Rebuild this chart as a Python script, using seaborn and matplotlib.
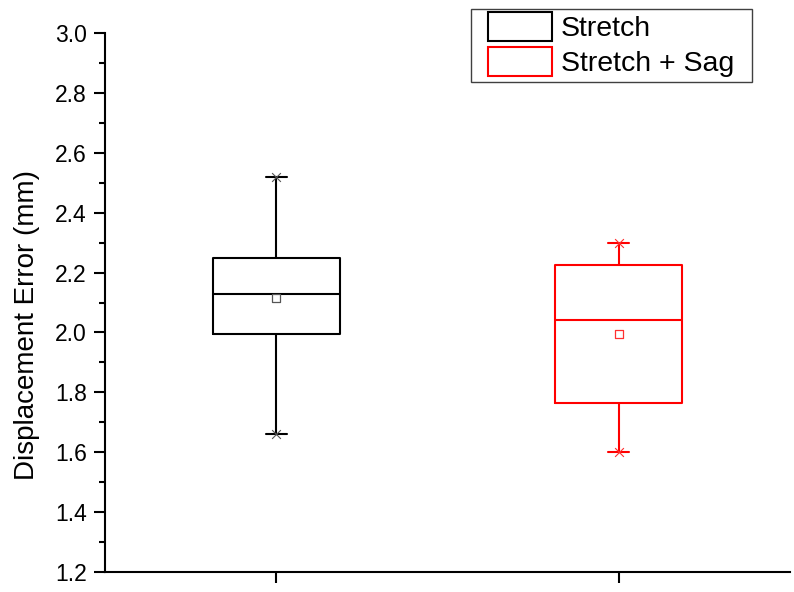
import numpy as np
import pandas as pd
import matplotlib
matplotlib.use("Agg")
import matplotlib.pyplot as plt
from matplotlib.patches import Patch, Rectangle
from matplotlib.ticker import AutoMinorLocator, FixedLocator
import seaborn as sns

# ---- data ----
groups = ["Stretch", "Stretch + Sag"]
# five-number summaries: min, q1, median, q3, max
stretch_summary = [1.66, 1.995, 2.13, 2.25, 2.52]
sag_summary = [1.60, 1.765, 2.04, 2.225, 2.30]
means = [2.115, 1.995]
y_ticks = [1.2, 1.4, 1.6, 1.8, 2.0, 2.2, 2.4, 2.6, 2.8, 3.0]
y_label = "Displacement Error (mm)"

line_colors = ["#000000", "#FF0000"]
mark_colors = ["#555555", "#FF3030"]

sns.set_theme(style="ticks")
plt.rcParams["font.family"] = ["Liberation Sans", "DejaVu Sans"]
plt.rcParams["text.color"] = "black"
plt.rcParams["axes.labelcolor"] = "black"
plt.rcParams["xtick.color"] = "black"
plt.rcParams["ytick.color"] = "black"

df = pd.DataFrame({
    "group": [groups[0]] * len(stretch_summary) + [groups[1]] * len(sag_summary),
    "value": stretch_summary + sag_summary,
})

W, H = 794, 592
fig = plt.figure(figsize=(W / 100, H / 100), dpi=100)
ax = fig.add_axes([105 / W, 20 / H, 685 / W, 539 / H])

sns.boxplot(data=df, x="group", y="value", hue="group", palette=line_colors,
            fill=False, whis=(0, 100), width=0.37, linewidth=1.5,
            legend=False, ax=ax, capwidths=0.062)

# whisker-end markers
ends = pd.DataFrame({
    "group": [groups[0], groups[0], groups[1], groups[1]],
    "value": [stretch_summary[0], stretch_summary[-1], sag_summary[0], sag_summary[-1]],
})
for g, c in zip(groups, mark_colors):
    sub = ends[ends["group"] == g]
    sns.scatterplot(data=sub, x="group", y="value", marker="x", s=40,
                    color=c, linewidth=0.8, ax=ax, zorder=5, legend=False)

# mean markers
mdf = pd.DataFrame({"group": groups, "value": means})
for i, (g, c) in enumerate(zip(groups, mark_colors)):
    sub = mdf[mdf["group"] == g]
    sns.scatterplot(data=sub, x="group", y="value", marker="s", s=28,
                    facecolor="white", edgecolor=c, linewidth=0.9,
                    ax=ax, zorder=6, legend=False)

ax.set_xlim(-0.5, 1.5)
ax.set_ylim(1.2, 3.0)
ax.yaxis.set_major_locator(FixedLocator(y_ticks))
ax.set_yticklabels([f"{t:.1f}" for t in y_ticks])
ax.yaxis.set_minor_locator(AutoMinorLocator(2))
ax.set_xticks([0, 1])
ax.set_xticklabels(["", ""])
ax.set_xlabel("")
ax.set_ylabel(y_label, fontsize=20)
ax.yaxis.set_label_coords(-0.095, 0.458)

sns.despine(ax=ax)
for s in ["left", "bottom"]:
    ax.spines[s].set_linewidth(1.5)
    ax.spines[s].set_color("black")
ax.tick_params(axis="both", which="major", direction="out", length=8, width=1.5,
               labelsize=16.5, pad=5)
ax.tick_params(axis="y", which="minor", direction="out", length=4.5, width=1.5)

# legend
handles = [Patch(facecolor="white", edgecolor=c, linewidth=1.5) for c in line_colors]
fig.legend(handles, groups, loc="upper left",
           bbox_to_anchor=(488 / W, 1 - 11.5 / H), borderaxespad=0,
           borderpad=0, frameon=False, fontsize=20.5,
           handlelength=2.24, handleheight=1.2, handletextpad=0.31,
           labelspacing=0.18)
fig.patches.append(Rectangle((471 / W, 1 - 82 / H), (752 - 471) / W, (82 - 9) / H,
                             transform=fig.transFigure, facecolor="none",
                             edgecolor="#404040", linewidth=1.0))

fig.savefig("out.png", dpi=100)
